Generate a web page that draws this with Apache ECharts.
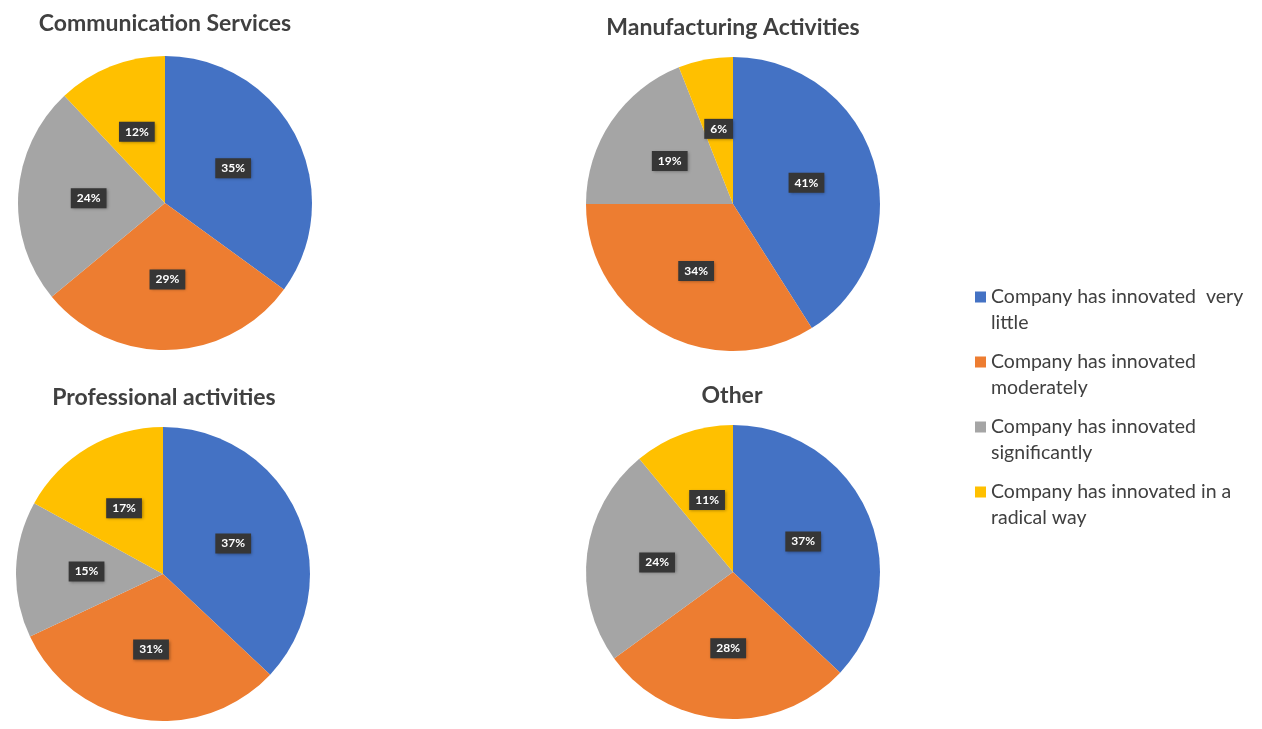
<!DOCTYPE html>
<html>
<head>
<meta charset="utf-8">
<script src="https://cdn.jsdelivr.net/npm/echarts@6/dist/echarts.min.js"></script>
<style>
  html, body { margin: 0; padding: 0; background: #ffffff; }
  #chart { width: 1262px; height: 729px; }
</style>
</head>
<body>
<div id="chart"></div>
<script>
// Innovation level by sector (share of companies, %)
const categories = [
  'Company has innovated  very little',
  'Company has innovated moderately',
  'Company has innovated significantly',
  'Company has innovated in a radical way'
];
const legendLines = {
  'Company has innovated  very little': 'Company has innovated  very\nlittle',
  'Company has innovated moderately': 'Company has innovated\nmoderately',
  'Company has innovated significantly': 'Company has innovated\nsignificantly',
  'Company has innovated in a radical way': 'Company has innovated in a\nradical way'
};
const sectors = ['Communication Services', 'Manufacturing Activities', 'Professional activities', 'Other'];
const communicationValues = [35, 29, 24, 12];
const manufacturingValues = [41, 34, 19, 6];
const professionalValues = [37, 31, 15, 17];
const otherValues = [37, 28, 24, 11];
const sectorValues = [communicationValues, manufacturingValues, professionalValues, otherValues];

const colors = ['#4472C4', '#ED7D31', '#A5A5A5', '#FFC000'];
const font = 'Lato, "Open Sans", sans-serif';

// pie placement: [centerX, centerY, titleX, titleY]
const layout = [
  [165, 203, 165, 12],
  [733, 204, 733, 16],
  [163, 574, 164, 386],
  [733, 572, 732, 384]
];
const radius = 147;

// legend marker: an 11px square sitting at the top of a taller box,
// so it lines up with the first line of a two-line label
const legendIcon = 'path://M0,0H11V11H0Z M0,37L11,37';

const chart = echarts.init(document.getElementById('chart'), null, { renderer: 'canvas' });

const titles = sectors.map((name, i) => ({
  text: name,
  left: layout[i][2],
  top: layout[i][3],
  textAlign: 'center',
  padding: 0,
  textStyle: { fontFamily: font, fontSize: 23, fontWeight: 'bold', color: '#404040' }
}));

const series = sectors.map((name, i) => ({
  name: name,
  type: 'pie',
  center: [layout[i][0], layout[i][1]],
  radius: [0, radius],
  startAngle: 90,
  clockwise: true,
  avoidLabelOverlap: false,
  silent: true,
  itemStyle: { borderWidth: 0 },
  label: {
    show: true,
    position: 'inside',
    formatter: '{c}%',
    fontFamily: font,
    fontSize: 12,
    fontWeight: 'bold',
    color: '#ffffff',
    backgroundColor: '#363636',
    padding: [4, 6, 4, 6],
    shadowColor: 'rgba(0,0,0,0.35)',
    shadowBlur: 3,
    shadowOffsetX: 1,
    shadowOffsetY: 1
  },
  labelLine: { show: false },
  data: categories.map((c, k) => ({ name: c, value: sectorValues[i][k], itemStyle: { color: colors[k] } }))
}));

chart.setOption({
  animation: false,
  color: colors,
  title: titles,
  legend: {
    orient: 'vertical',
    left: 975,
    top: 284,
    padding: 0,
    itemWidth: 11,
    itemHeight: 37,
    itemGap: 13,
    icon: legendIcon,
    selectedMode: false,
    data: categories,
    formatter: name => legendLines[name],
    textStyle: {
      fontFamily: font,
      fontSize: 19.5,
      color: '#404040',
      lineHeight: 26
    }
  },
  series: series
});
</script>
</body>
</html>
